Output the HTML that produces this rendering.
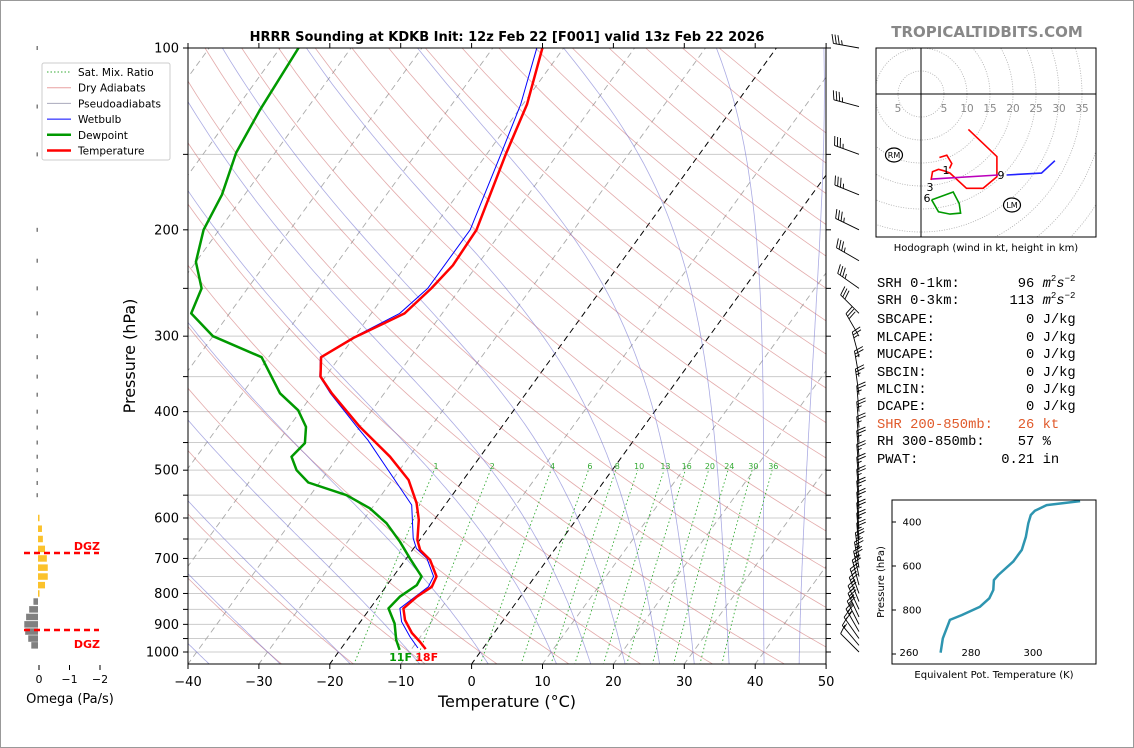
<!DOCTYPE html>
<html><head><meta charset="utf-8">
<style>
html,body{margin:0;padding:0;background:#fff;}
svg{display:block;font-family:"DejaVu Sans","Liberation Sans",sans-serif;}
</style></head>
<body>
<svg id="fig" width="1134" height="748" viewBox="0 0 1134 748" xmlns="http://www.w3.org/2000/svg">
<rect x="0.5" y="0.5" width="1133" height="747" fill="#fff" stroke="#999"/>
<defs><clipPath id="mainclip"><rect x="188" y="48" width="638" height="616"/></clipPath>
<clipPath id="hodoclip"><rect x="876" y="48" width="220" height="189"/></clipPath></defs>
<g id="bg" clip-path="url(#mainclip)"></g>
<g id="prof" clip-path="url(#mainclip)"></g>
<g id="axes"></g>
<g id="barbs"></g>
<g id="omega"></g>
<g id="hodo"></g>
<g id="thetae"></g>
<text x="507" y="41" text-anchor="middle" font-size="13" font-weight="bold">HRRR Sounding at KDKB Init: 12z Feb 22 [F001] valid 13z Feb 22 2026</text>
<text x="987" y="37" text-anchor="middle" font-size="15" font-weight="bold" fill="#888">TROPICALTIDBITS.COM</text>
<g font-family="'Liberation Mono',monospace" font-size="13.8">
<text x="877" y="287" xml:space="preserve">SRH 0-1km:       96 <tspan font-style="italic">m</tspan><tspan font-size="9" dy="-6">2</tspan><tspan font-style="italic" dy="6">s</tspan><tspan font-size="9" dy="-6">−2</tspan></text>
<text x="877" y="304" xml:space="preserve">SRH 0-3km:      113 <tspan font-style="italic">m</tspan><tspan font-size="9" dy="-6">2</tspan><tspan font-style="italic" dy="6">s</tspan><tspan font-size="9" dy="-6">−2</tspan></text>
<text x="877" y="323" xml:space="preserve">SBCAPE:           0 J/kg</text>
<text x="877" y="341" xml:space="preserve">MLCAPE:           0 J/kg</text>
<text x="877" y="358" xml:space="preserve">MUCAPE:           0 J/kg</text>
<text x="877" y="376" xml:space="preserve">SBCIN:            0 J/kg</text>
<text x="877" y="393" xml:space="preserve">MLCIN:            0 J/kg</text>
<text x="877" y="410" xml:space="preserve">DCAPE:            0 J/kg</text>
<text x="877" y="428" xml:space="preserve" fill="#e05a2b">SHR 200-850mb:   26 kt</text>
<text x="877" y="445" xml:space="preserve">RH 300-850mb:    57 %</text>
<text x="877" y="463" xml:space="preserve">PWAT:          0.21 in</text>
</g>
</svg>
<script>
// ===== Sounding data =====
const tempP = [100,124,150,200,229,250,275,302,325,350,373,424,475,519,567,604,653,678,704,750,780,810,847,885,930,961,989];
const tempT = [-53.0,-49.4,-47.3,-43.7,-43.4,-44.1,-45.3,-50.0,-52.6,-50.7,-47.4,-40.0,-32.7,-27.7,-24.2,-22.2,-20.3,-18.9,-16.5,-13.9,-13.5,-14.6,-15.3,-13.9,-11.6,-9.6,-8.0];
const dewP = [100,127,149,175,200,226,250,275,300,325,373,398,424,451,475,500,524,550,578,612,657,700,750,775,810,847,897,955,992];
const dewT = [-87.4,-86.5,-85.5,-83.2,-82.2,-80.0,-76.5,-75.4,-70.0,-61.0,-54.7,-50.4,-47.6,-46.1,-46.6,-44.5,-41.6,-34.9,-30.3,-26.4,-22.6,-19.5,-16.0,-15.8,-17.0,-17.4,-15.0,-13.1,-11.6];
const wbP = [100,124,150,200,250,275,302,325,350,373,424,446,571,648,674,700,750,780,847,891,943,985];
const wbT = [-53.8,-50.3,-48.0,-44.6,-44.6,-46.0,-50.2,-52.7,-50.8,-47.6,-40.4,-37.5,-24.7,-21.1,-19.6,-17.1,-14.3,-14.0,-15.8,-14.2,-11.5,-9.2];
// winds
const windP = [100,125,150,175,200,225,250,275,300,325,350,375,400,425,450,475,500,525,550,575,600,625,650,675,700,725,750,775,800,825,850,875,900,925,950,975,1000];
const windDir = [280,285,290,292,296,300,305,315,330,345,350,352,355,355,355,355,355,355,355,355,355,355,355,355,352,350,348,345,340,338,335,335,333,330,325,320,315];
const windSpd = [35,35,35,35,35,35,35,30,30,25,25,25,25,25,25,25,25,25,25,25,25,25,25,25,25,25,25,25,25,25,25,25,25,25,20,15,10];
// omega
const omegaP = [100,125,150,200,225,250,275,300,325,350,375,400,425,450,475,500,525,550,600,625,650,675,700,725,750,775,800,825,850,875,900,925,950,975];
const omegaV = [0.05,0.05,0.05,0.05,0.05,0.05,0.05,0.05,0.05,0.05,0.05,0.05,0.05,0.05,0.05,0.05,0.05,0.05,-0.05,-0.13,-0.16,-0.23,-0.29,-0.32,-0.32,-0.23,-0.05,0.15,0.29,0.39,0.45,0.42,0.32,0.22];
// hodograph (kt)
const hodoRedU = [10.3,16.5,16.5,13.5,9.9,6.3,5.0,3.8,2.5,2.2];
const hodoRedV = [-7.7,-13.6,-18.0,-20.5,-20.5,-17.2,-16.7,-16.4,-16.9,-18.7];
const hodoHookU = [4.0,5.6,6.7,6.2];
const hodoHookV = [-13.8,-13.3,-15.1,-16.2];
const hodoGreenU = [2.3,2.7,7.0,8.3,8.6,6.3,3.8,2.3];
const hodoGreenV = [-23.0,-22.9,-21.3,-23.8,-25.9,-26.1,-25.6,-23.0];
const hodoPurpleU = [2.3,16.8];
const hodoPurpleV = [-18.5,-17.6];
const hodoBlueU = [18.6,26.2,29.1];
const hodoBlueV = [-17.6,-17.2,-14.5];
// theta-e
const thetaP = [994,929,845,823,785,747,709,664,641,580,527,467,406,368,349,323,305];
const thetaE = [270.2,270.9,273.2,277.0,282.9,285.9,287.2,287.4,288.8,293.6,296.4,297.7,298.5,299.3,300.6,304.4,315.2];
// tick labels
const xTicks = [-40,-30,-20,-10,0,10,20,30,40,50];
const yTicks = [100,200,300,400,500,600,700,800,900,1000];
const mixW = [1,2,4,6,8,10,13,16,20,24,30,36];

const NS="http://www.w3.org/2000/svg";
function mk(tag,attrs,parent,txt){const e=document.createElementNS(NS,tag);for(const k in attrs)e.setAttribute(k,attrs[k]);if(txt!==undefined)e.textContent=txt;parent.appendChild(e);return e;}
const yP = p => 652 + 604*Math.log10(p/1000);
const xT = (T,p) => 188 + (T+40)*7.09 + (664 - yP(p))*0.725;
const bg=document.getElementById('bg'), prof=document.getElementById('prof'), axes=document.getElementById('axes');
function polyPts(ps,ts){return ps.map((p,i)=>xT(ts[i],p).toFixed(1)+','+yP(p).toFixed(1)).join(' ');}

// isobars
for(let p=100;p<=1000;p+=50){const l=mk('line',{x1:188,x2:826,y1:yP(p),y2:yP(p),stroke:'#ccc','stroke-width':1},bg);

}
// isotherms
for(let T=-130;T<=50;T+=10){const l=mk('line',{x1:xT(T,1050),y1:yP(1050),x2:xT(T,100),y2:yP(100),stroke:(T==-20||T==0)?'#000':'#aaa','stroke-width':(T==-20||T==0)?1:0.9,'stroke-dasharray':'6,4'},bg);

}
// dry adiabats
for(let th=-30;th<=200;th+=10){let pts=[];for(let p=1050;p>=100;p-=10){const T=(th+273.15)*Math.pow(p/1000,0.2857)-273.15;pts.push(xT(T,p).toFixed(1)+','+yP(p).toFixed(1));}
const l=mk('polyline',{points:pts.join(' '),fill:'none',stroke:'#c66','stroke-opacity':0.55,'stroke-width':0.8},bg);

}
// moist adiabats
function dTdp(T,p){const Rd=287.04,cp=1005.7,Lv=2.501e6,eps=0.622;const Tk=T+273.15;const es=6.112*Math.exp(17.67*T/(T+243.5));const rs=eps*es/(p-es);return (Rd*Tk+Lv*rs)/(p*(cp+Lv*Lv*rs*eps/(Rd*Tk*Tk)));}
const moistStart=[-40,-30,-20,-10,0,10,15,20,25,30,35,40,45];
moistStart.forEach(t0=>{let pts=[];let T=t0;let low=[];let Tl=t0;for(let p=1000;p<1050;p+=5){Tl+=dTdp(Tl,p)*5;low.push([p+5,Tl]);}
low.reverse().forEach(a=>pts.push(xT(a[1],a[0]).toFixed(1)+','+yP(a[0]).toFixed(1)));
for(let p=1000;p>=100;p-=5){pts.push(xT(T,p).toFixed(1)+','+yP(p).toFixed(1));T-=dTdp(T,p)*5;}
const l=mk('polyline',{points:pts.join(' '),fill:'none',stroke:'#66c','stroke-opacity':0.55,'stroke-width':0.8},bg);

});
// mixing ratio lines
mixW.forEach(w=>{let pts=[];const tdOf=p=>{const e=w*p/(622+w);const a=Math.log(e/6.112);return 243.5*a/(17.67-a);};
for(let p=1050;p>=500;p-=10){pts.push(xT(tdOf(p),p).toFixed(1)+','+yP(p).toFixed(1));}
const l=mk('polyline',{points:pts.join(' '),fill:'none',stroke:'#3a3','stroke-width':0.9,'stroke-dasharray':'1.5,2.5'},bg);


const t=mk('text',{x:xT(tdOf(492),492),y:yP(492)+3,'font-size':8,fill:'#3a3','text-anchor':'middle'},bg,String(w));

});

// profiles
let l1=mk('polyline',{points:polyPts(wbP,wbT),fill:'none',stroke:'#00f','stroke-width':1},prof);


let l2=mk('polyline',{points:polyPts(dewP,dewT),fill:'none',stroke:'#090','stroke-width':2.5,'stroke-linejoin':'round'},prof);


let l3=mk('polyline',{points:polyPts(tempP,tempT),fill:'none',stroke:'#f00','stroke-width':2.5,'stroke-linejoin':'round'},prof);


let sf1=mk('text',{x:xT(dewT[dewT.length-1],dewP[dewP.length-1])+1,y:661,'font-size':11,'font-weight':'bold',fill:'#090','text-anchor':'middle'},axes,'11F');


let sf2=mk('text',{x:xT(tempT[tempT.length-1],tempP[tempP.length-1])+1,y:661,'font-size':11,'font-weight':'bold',fill:'#f00','text-anchor':'middle'},axes,'18F');



// axes frame & ticks
let fr=mk('rect',{x:188,y:48,width:638,height:616,fill:'none',stroke:'#000','stroke-width':1},axes);


xTicks.forEach(T=>{const x=188+(T+40)*7.09;mk('line',{x1:x,x2:x,y1:664,y2:669,stroke:'#000'},axes);
mk('line',{x1:x,x2:x,y1:48,y2:43,stroke:'#000'},axes);
const t=mk('text',{x:x,y:686,'font-size':13,'text-anchor':'middle'},axes,(T<0?'−':'')+Math.abs(T));

});
for(let p=100;p<=1000;p+=50){const y=yP(p);mk('line',{x1:183,x2:188,y1:y,y2:y,stroke:'#000'},axes);mk('line',{x1:826,x2:831,y1:y,y2:y,stroke:'#000'},axes);}
yTicks.forEach(p=>{const t=mk('text',{x:179,y:yP(p)+4.5,'font-size':13,'text-anchor':'end'},axes,String(p));

});
let xl=mk('text',{x:507,y:707,'font-size':16,'text-anchor':'middle'},axes,'Temperature (°C)');


let yl=mk('text',{x:0,y:0,'font-size':16,'text-anchor':'middle',transform:'translate(135,356) rotate(-90)'},axes,'Pressure (hPa)');



// legend
const lg=mk('g',{},axes);


mk('rect',{x:42,y:63,width:128,height:97,rx:2,fill:'#fff',stroke:'#ccc'},lg);
const legItems=[['Sat. Mix. Ratio','#3a3',0.9,'1.5,2'],['Dry Adiabats','#e8a0a0',1,''],['Pseudoadiabats','#aab',1,''],['Wetbulb','#00f',1,''],['Dewpoint','#090',2.5,''],['Temperature','#f00',2.5,'']];
legItems.forEach((it,i)=>{const y=72+i*15.7;const g=mk('g',{},lg);


const a={x1:47,x2:71,y1:y,y2:y,stroke:it[1],'stroke-width':it[2]};if(it[3])a['stroke-dasharray']=it[3];mk('line',a,g);
mk('text',{x:78,y:y+4,'font-size':10.5},g,it[0]);});

// wind barbs
const bgp=document.getElementById('barbs');
windP.forEach((p,i)=>{const sx=859,sy=yP(p);const d=windDir[i]*Math.PI/180;const ux=Math.sin(d),uy=-Math.cos(d);const L=26;
const tx=sx+ux*L,ty=sy+uy*L;const px=-uy,py=ux;const g=mk('g',{stroke:'#000','stroke-width':0.9,fill:'none'},bgp);


mk('line',{x1:sx,y1:sy,x2:tx,y2:ty},g);
let s=windSpd[i];let full=Math.floor(s/10),half=(s%10)>=5?1:0;let pos=0;
for(let k=0;k<full;k++){const bx=tx-ux*pos*3,by=ty-uy*pos*3;mk('line',{x1:bx,y1:by,x2:bx+px*9+ux*3,y2:by+py*9+uy*3},g);pos++;}
if(half){if(full==0)pos=1;const bx=tx-ux*pos*3,by=ty-uy*pos*3;mk('line',{x1:bx,y1:by,x2:bx+px*4.5+ux*1.5,y2:by+py*4.5+uy*1.5},g);}});

// omega panel
const og=document.getElementById('omega');
const xO=v=>38-v*30.5;
omegaP.forEach((p,i)=>{const v=omegaV[i];const x1=Math.min(38,xO(v)),w=Math.abs(xO(v)-38);const h=(p<590)?(p%100==0?4:4):6.5;
const r=mk('rect',{x:x1,y:yP(p)-h/2,width:Math.max(w,1.2),height:h,fill:v<0?'#fbc22c':'#808080'},og);

});
[[553,546],[630,644]].forEach(a=>{const l=mk('line',{x1:24,x2:99,y1:a[0],y2:a[0],stroke:'#f00','stroke-width':2.5,'stroke-dasharray':'6,4'},og);


const t=mk('text',{x:100,y:a[1]+4,'font-size':11,'font-weight':'bold',fill:'#f00','text-anchor':'end'},og,'DGZ');

});
[[0,'0'],[-1,'−1'],[-2,'−2']].forEach(a=>{const x=39-a[0]*30.5;mk('line',{x1:x,x2:x,y1:665,y2:670,stroke:'#000'},og);
const t=mk('text',{x:x,y:683,'font-size':11,'text-anchor':'middle'},og,a[1]);

});
let ol=mk('text',{x:70,y:703,'font-size':13,'text-anchor':'middle'},og,'Omega (Pa/s)');



// hodograph
const hg=document.getElementById('hodo');
const hx=u=>921+u*4.6, hy=v=>94-v*4.6;
const hc=mk('g',{'clip-path':'url(#hodoclip)'},hg);
for(let r=5;r<=60;r+=5){mk('circle',{cx:921,cy:94,r:r*4.6,fill:'none',stroke:'#aaa','stroke-width':0.8,'stroke-dasharray':'1,1.5'},hc);}
mk('line',{x1:876,x2:1096,y1:94,y2:94,stroke:'#000'},hc);
mk('line',{x1:921,x2:921,y1:48,y2:237,stroke:'#000'},hc);
[-5,5,10,15,20,25,30,35].forEach(v=>{const t=mk('text',{x:hx(Math.abs(v)*(v<0?-1:1)),y:112,'font-size':10.5,fill:'#888','text-anchor':'middle'},hg,String(Math.abs(v)));

});
function hline(U,V,col,name){const l=mk('polyline',{points:U.map((u,i)=>hx(u).toFixed(1)+','+hy(V[i]).toFixed(1)).join(' '),fill:'none',stroke:col,'stroke-width':1.6},hc);

}
hline(hodoRedU,hodoRedV,'#f00','hodograph-red-segment');
hline(hodoHookU,hodoHookV,'#f00','hodograph-red-hook');
hline(hodoGreenU,hodoGreenV,'#090','hodograph-green-segment');
hline(hodoPurpleU,hodoPurpleV,'#b0b','hodograph-purple-segment');
hline(hodoBlueU,hodoBlueV,'#22f','hodograph-blue-segment');
[['1',946,174],['3',930,191],['6',927,202],['9',1001,179]].forEach(a=>{const t=mk('text',{x:a[1],y:a[2],'font-size':11,'text-anchor':'middle'},hg,a[0]);

});
[['RM',894,155],['LM',1012,205]].forEach(a=>{const g=mk('g',{},hg);


mk('ellipse',{cx:a[1],cy:a[2],rx:8.5,ry:7,fill:'#fff',stroke:'#000','stroke-width':1.2},g);
mk('text',{x:a[1],y:a[2]+3,'font-size':8,'text-anchor':'middle'},g,a[0]);});
mk('rect',{x:876,y:48,width:220,height:189,fill:'none',stroke:'#000'},hg);
let hl=mk('text',{x:986,y:251,'font-size':10,'text-anchor':'middle'},hg,'Hodograph (wind in kt, height in km)');



// theta-e panel
const tg=document.getElementById('thetae');
const ex=k=>909+(k-260)*3.1, ey=p=>654+(p-1000)*0.22;
let tl=mk('polyline',{points:thetaE.map((k,i)=>ex(k).toFixed(1)+','+ey(thetaP[i]).toFixed(1)).join(' '),fill:'none',stroke:'#2e95b0','stroke-width':2.5,'stroke-linejoin':'round'},tg);


mk('rect',{x:892,y:500,width:204,height:164,fill:'none',stroke:'#000'},tg);
[400,600,800,1000].forEach(p=>{const y=ey(p);mk('line',{x1:892,x2:896,y1:y,y2:y,stroke:'#000'},tg);
if(p<1000){const t=mk('text',{x:912,y:y+3.5,'font-size':10,'text-anchor':'middle'},tg,String(p));

}});
[260,280,300].forEach(k=>{const t=mk('text',{x:ex(k),y:656,'font-size':10,'text-anchor':'middle'},tg,String(k));

});
let tyl=mk('text',{x:0,y:0,'font-size':10,'text-anchor':'middle',transform:'translate(884,582) rotate(-90)'},tg,'Pressure (hPa)');


let txl=mk('text',{x:994,y:678,'font-size':10,'text-anchor':'middle'},tg,'Equivalent Pot. Temperature (K)');


</script>
</body></html>
